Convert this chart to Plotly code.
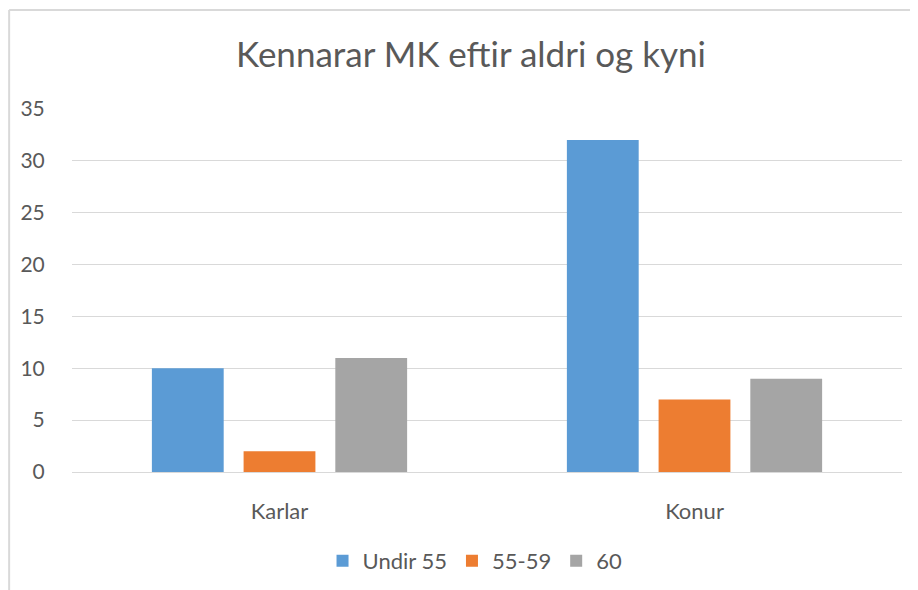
import plotly.graph_objects as go

categories = ["Karlar", "Konur"]
series_names = ["Undir 55", "55-59", "60"]
undir55 = [10, 32]
s55_59 = [2, 7]
s60 = [11, 9]
values = [undir55, s55_59, s60]
colors = ["#5B9BD5", "#ED7D31", "#A5A5A5"]
y_ticks = [0, 5, 10, 15, 20, 25, 30, 35]

FONT = "Lato"
TXT = "#595959"
fig = go.Figure()
for name, vals, col in zip(series_names, values, colors):
    fig.add_trace(go.Bar(x=categories, y=vals, name=name, marker_color=col,
                         marker_line_width=0))

# page body has an 8px margin, so the figure is offset by (8, 8)
OFF = 8
W, H = 918, 590
L, R, T, B = 62, 24, 101, 126
PH = H - T - B
PW = W - L - R

fig.update_layout(
    width=W, height=H,
    margin=dict(l=L, r=R, t=T, b=B),
    paper_bgcolor="white", plot_bgcolor="white",
    title=dict(text="Kennarar MK eftir aldri og kyni", x=(471 - OFF) / W, xanchor="center",
               y=1 - (55 - OFF) / H, yanchor="middle",
               font=dict(family=FONT, size=35, color=TXT)),
    barmode="group", bargap=0.337, bargroupgap=0.217,
    showlegend=True,
    legend=dict(orientation="h", x=(474 - OFF - L) / PW, xanchor="center",
                y=-(561 - OFF - (T + PH)) / PH, yanchor="middle",
                font=dict(family=FONT, size=22, color=TXT),
                itemwidth=30, traceorder="normal"),
    font=dict(family=FONT, color=TXT),
)
fig.update_yaxes(range=[0, 35], tickvals=y_ticks, showgrid=True, gridcolor="#D9D9D9",
                 gridwidth=1, zeroline=False, showline=False,
                 ticks="outside", ticklen=22, tickcolor="rgba(0,0,0,0)",
                 tickfont=dict(family=FONT, size=21, color=TXT))
fig.update_xaxes(showline=True, linecolor="#D9D9D9", linewidth=1,
                 ticks="outside", ticklen=20, tickcolor="rgba(0,0,0,0)",
                 tickfont=dict(family=FONT, size=22, color=TXT))

# chart-area border (left and top edges visible in the reference)
bx = (7 - OFF - L) / PW
by = (T + PH - (10 - OFF)) / PH
fig.add_shape(type="line", xref="paper", yref="paper", x0=bx, x1=1.2, y0=by, y1=by,
              line=dict(color="#D9D9D9", width=2), layer="above")
fig.add_shape(type="line", xref="paper", yref="paper", x0=bx, x1=bx, y0=-0.6, y1=by,
              line=dict(color="#D9D9D9", width=2), layer="above")

fig.write_html("out.html")
